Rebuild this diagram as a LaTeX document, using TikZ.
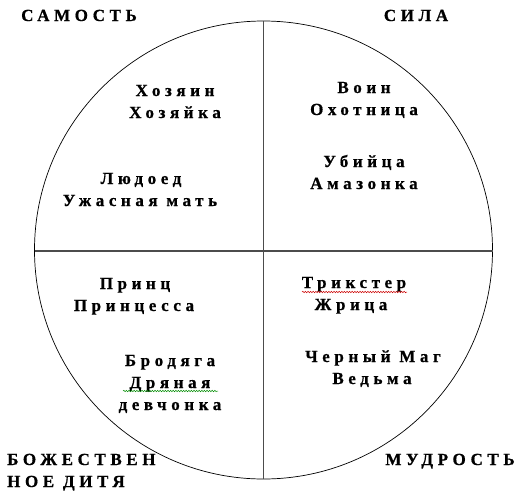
\documentclass[tikz,border=0pt]{standalone}
\usepackage{fontspec}
\newfontfamily\lblfont{Liberation Serif}[UprightFont={* Bold}, LetterSpace=27, FakeBold=0.7]
\usetikzlibrary{decorations.pathmorphing}
\begin{document}
\begin{tikzpicture}[x=1pt,y=-1pt,
  lbl/.style={font=\lblfont\fontsize{17}{22}\selectfont, inner sep=0pt, anchor=base},
  lblw/.style={lbl, anchor=base west},
  ring/.style={draw=black, line width=0.7pt},
  axis/.style={draw=black!70, line width=1.2pt},
  spellred/.style={draw=red!80!black, line width=0.5pt, decorate, decoration={snake, amplitude=0.7pt, segment length=2.6pt}},
  spellgreen/.style={draw=green!55!black, line width=0.5pt, decorate, decoration={snake, amplitude=0.7pt, segment length=2.6pt}}]
\useasboundingbox (0,0) rectangle (526,493);
\coordinate (c) at (263.5,250);
\coordinate (top) at (263.5,21);
\coordinate (bot) at (263.5,479);
\coordinate (lft) at (34.5,251);
\coordinate (rgt) at (492.5,251);
\draw[ring] (c) circle[radius=229];
\draw[axis] (top) -- (bot);
\draw[axis] (lft) -- (rgt);

\node[lbl] (samost) at (79,21) {САМОСТЬ};
\node[lbl] (sila) at (416,21) {СИЛА};
\node[lblw] (bozh1) at (7,465) {БОЖЕСТВЕН};
\node[lblw] (bozh2) at (7,487) {НОЕ ДИТЯ};
\node[lbl] (mudr) at (450,465) {МУДРОСТЬ};

\node[lbl] (hoz1) at (175,96) {Хозяин};
\node[lbl] (hoz2) at (175,118) {Хозяйка};
\node[lbl] (lyud1) at (141,184) {Людоед};
\node[lbl] (lyud2) at (140,206) {Ужасная мать};

\node[lbl] (voin1) at (364,93) {Воин};
\node[lbl] (voin2) at (364,115) {Охотница};
\node[lbl] (ub1) at (364,167) {Убийца};
\node[lbl] (ub2) at (364,189) {Амазонка};

\node[lbl] (pr1) at (135,289) {Принц};
\node[lbl] (pr2) at (134,311) {Принцесса};
\node[lbl] (br1) at (170,366) {Бродяга};
\node[lbl] (br2) at (170,388) {Дряная};
\node[lbl] (br3) at (170,410) {девчонка};

\node[lbl] (tr1) at (354,288) {Трикстер};
\node[lbl] (tr2) at (351,310) {Жрица};
\node[lbl] (ch1) at (373,362) {Черный Маг};
\node[lbl] (ch2) at (372,384) {Ведьма};

\coordinate (sq1a) at (302,292);
\coordinate (sq1b) at (407,292);
\coordinate (sq2a) at (123,391);
\coordinate (sq2b) at (218,391);
\draw[spellred] (sq1a) -- (sq1b);
\draw[spellgreen] (sq2a) -- (sq2b);
\end{tikzpicture}
\end{document}
